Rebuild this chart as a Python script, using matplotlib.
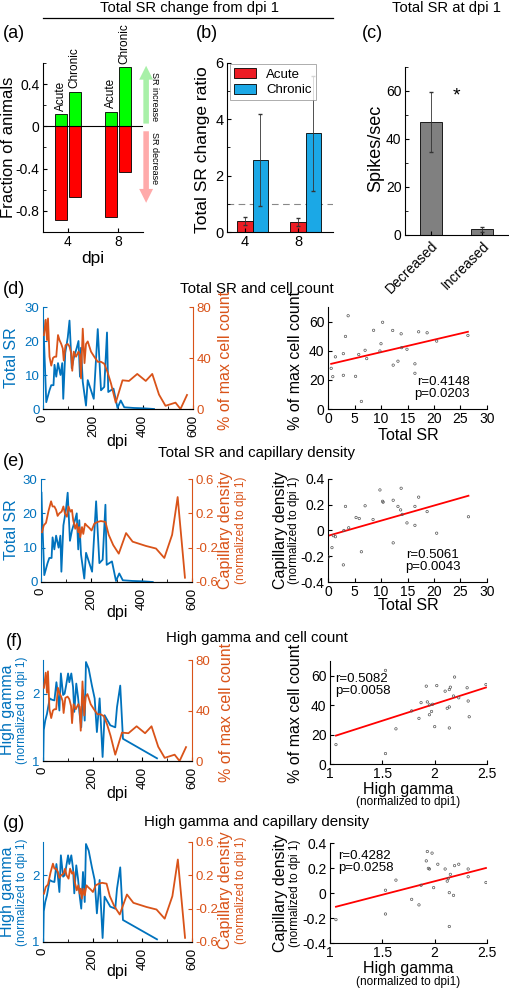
import numpy as np
import matplotlib
matplotlib.use('Agg')
import matplotlib.pyplot as plt
from matplotlib.ticker import MultipleLocator

plt.rcParams['font.family'] = ['Liberation Sans', 'DejaVu Sans']
plt.rcParams['xtick.direction'] = 'in'
plt.rcParams['ytick.direction'] = 'in'
plt.rcParams['xtick.major.pad'] = 2.5
plt.rcParams['ytick.major.pad'] = 2.5
plt.rcParams['axes.linewidth'] = 0.8

BLUE = '#0072BD'
ORANGE = '#D95319'

# (a) fraction of animals
a_dpi = [4, 8]
a_acute_up = [0.12, 0.14]
a_chronic_up = [0.33, 0.565]
a_acute_down = [-0.885, -0.86]
a_chronic_down = [-0.67, -0.435]

# (b) total SR change ratio
b_dpi = [4, 8]
b_acute = [0.40, 0.36]
b_acute_err = [0.15, 0.15]
b_chronic = [2.56, 3.50]
b_chronic_err = [1.62, 2.05]

# (c) total SR at dpi 1
c_groups = ['Decreased', 'Increased']
c_vals = [47.0, 2.4]
c_err = [12.5, 1.1]

# time series
sr_dpi = [2, 4, 13, 26, 33, 42, 46, 53, 60, 70, 77, 81, 89, 99, 106, 115, 123, 135, 142,
          148, 152, 159, 172, 179, 192, 203, 219, 232, 245, 256, 261, 282, 298, 311, 325,
          364, 404, 444]
sr = [26, 20, 2, 5.5, 7, 7, 13, 9.5, 13.5, 10, 13.5, 3, 16.5, 21, 26, 12, 15, 18, 20,
      9.5, 18, 8, 1, 8.5, 5.5, 3, 23.5, 5.5, 6.5, 22.5, 5, 6, 0.3, 2.5, 0.5, 0.3, 0.2, 0]

cc_dpi = [4, 11, 16, 20, 26, 33, 40, 46, 53, 60, 66, 73, 79, 83, 90, 99, 106, 113, 117, 123,
          132, 142, 147, 152, 159, 166, 172, 179, 192, 205, 219, 232, 245, 258, 272, 291,
          318, 344, 377, 411, 437, 464, 490, 530, 550, 576]
cc = [58, 70, 54, 71, 41, 34, 40, 41, 41, 58, 54, 51, 47.5, 38, 50, 51, 49, 43.5, 30, 45,
      41, 45, 43, 24, 63, 36, 51, 53, 45, 41, 37, 37, 35.5, 29, 20, 5, 22.5, 22, 27.5, 22,
      27.5, 11.3, 2.5, 5, 0, 11]

cap_dpi = [4, 11, 20, 30, 40, 46, 53, 60, 66, 73, 82, 89, 95, 103, 109, 117, 123, 128, 136,
           142, 148, 152, 156, 163, 168, 175, 181, 192, 201, 212, 225, 238, 256, 269, 287,
           309, 338, 364, 417, 457, 490, 521, 543, 572]
cap = [-0.02, 0.06, 0.09, 0.23, 0.34, 0.28, 0.28, 0.24, 0.17, 0.20, 0.22, 0.28, 0.20, 0.16,
       0.28, 0.22, 0.24, 0.12, 0.02, 0.08, -0.02, 0.04, -0.08, 0.04, -0.04, 0.08, 0.06,
       0.03, 0.0, 0.08, 0.10, 0.11, 0.10, -0.05, -0.17, -0.27, -0.03, -0.13, -0.18, -0.21,
       -0.32, -0.05, 0.39, -0.55]

hg_dpi = [1, 3, 9, 16, 27, 36, 46, 54, 59, 66, 72, 81, 87, 93, 101, 106, 114, 121, 126, 134,
          141, 148, 154, 161, 168, 173, 184, 197, 208, 217, 228, 240, 248, 271, 291, 298,
          311, 322, 459]
hg = [1.0, 1.46, 1.6, 1.7, 1.93, 1.91, 1.9, 2.17, 2.02, 1.75, 2.3, 1.98, 2.0, 2.12, 2.3,
      2.17, 2.3, 2.1, 1.73, 2.15, 1.95, 1.68, 1.5, 2.05, 1.6, 2.47, 2.37, 2.12, 1.93, 1.43,
      1.93, 1.06, 1.68, 1.53, 1.5, 1.8, 2.12, 1.33, 1.04]

# scatter: total SR vs cell count
d_sr = [0.6, 0.9, 1.4, 2.9, 2.9, 3.3, 3.8, 5.2, 5.8, 6.3, 7.0, 7.3, 8.6, 9.8, 10.0, 10.3,
        12.2, 12.3, 13.2, 13.8, 13.9, 14.9, 16.4, 16.4, 17.1, 18.7, 20.5, 26.4]
d_cc = [27.9, 22.2, 35.8, 38, 23.1, 49.8, 64, 22.4, 37.4, 5.2, 40.3, 34.6, 54, 39.8, 44.8,
        59.5, 53.9, 30.1, 32.8, 51.6, 42.1, 41, 31, 24.5, 53, 52.3, 46.6, 50.5]
d_fit = [31.0, 53.0]

# scatter: total SR vs capillary density
e_sr = [0.1, 0.75, 1.0, 1.4, 3.0, 3.3, 2.9, 3.9, 5.3, 5.9, 6.3, 7.0, 8.5, 9.8, 10.3, 10.4,
        12.3, 12.3, 13.2, 13.7, 13.8, 14.0, 14.9, 16.4, 16.4, 17.1, 18.7, 20.5, 26.5]
e_cap = [-0.205, -0.133, -0.04, -0.048, 0.0, 0.187, -0.267, 0.021, 0.101, 0.093, -0.165,
         0.192, 0.085, 0.315, 0.227, 0.22, 0.235, -0.096, 0.187, 0.16, 0.328, 0.125, 0.059,
         0.187, 0.04, 0.259, 0.147, -0.021, 0.107]
e_fit = [-0.04, 0.27]

# scatter: high gamma vs cell count
f_hg = [1.057, 1.53, 1.53, 1.63, 1.78, 1.85, 1.87, 1.92, 1.93, 1.95, 1.95, 1.97, 1.98, 2.0,
        2.02, 2.10, 2.12, 2.14, 2.14, 2.14, 2.15, 2.18, 2.19, 2.23, 2.31, 2.32, 2.33, 2.49]
f_cc = [13.2, 63.6, 7.1, 23.9, 36.1, 31, 41.7, 52.9, 42.2, 40.2, 33.5, 35.7, 40.6, 25.4,
        53.3, 49.5, 37.9, 38.8, 24.5, 50.6, 52.2, 46.2, 59.1, 45, 51.8, 42.8, 32.1, 54]
f_fit = [19.3, 52.0]

# scatter: high gamma vs capillary density
g_hg = [1.057, 1.53, 1.53, 1.63, 1.78, 1.85, 1.87, 1.92, 1.93, 1.94, 1.95, 1.975, 1.99,
        2.03, 2.10, 2.12, 2.13, 2.14, 2.14, 2.15, 2.18, 2.19, 2.23, 2.32, 2.32, 2.49]
g_cap = [-0.213, -0.168, 0.022, 0.103, -0.051, -0.095, 0.062, 0.257, 0.332, 0.197, 0.192,
         0.319, 0.043, 0.23, 0.192, 0.095, 0.116, 0.003, -0.268, 0.149, -0.019, 0.219, 0.23,
         0.192, 0.13, 0.084]
g_fit = [-0.11, 0.20]

W, H = 510, 988
fig = plt.figure(figsize=(W / 100, H / 100), dpi=100)

LAB = 11.5     # axis labels in panels d-g
SUB = 8.5      # "(normalized ...)" sub labels
TTL = 10.8     # panel titles
TCK = 9.5      # tick labels


def add_ax(x0, y0, x1, y1):
    return fig.add_axes([x0 / W, 1 - y1 / H, (x1 - x0) / W, (y1 - y0) / H])


def ftext(x, y, s, **kw):
    kw.setdefault('ha', 'center')
    kw.setdefault('va', 'center')
    fig.text(x / W, 1 - y / H, s, **kw)


def box_off(ax):
    ax.spines['top'].set_visible(False)
    ax.spines['right'].set_visible(False)


# ---------- top headers ----------
ftext(190, 8, 'Total SR change from dpi 1', fontsize=10.6)
fig.add_artist(plt.Line2D([43 / W, 333 / W], [1 - 18 / H, 1 - 18 / H], color='k', lw=0.9))
ftext(447, 8, 'Total SR at dpi 1', fontsize=10.6)
for lab, x, y in [('(a)', 14, 33), ('(b)', 207, 33), ('(c)', 372, 33),
                  ('(d)', 14, 290), ('(e)', 14, 461), ('(f)', 14, 641), ('(g)', 14, 823)]:
    ftext(x, y, lab, fontsize=13)

# ---------- (a) ----------
ax = add_ax(43, 63, 143, 232)
box_off(ax)
xa = np.array(a_dpi, dtype=float)
ax.bar(xa - 0.55, a_acute_up, width=1.0, color='#00FF00', edgecolor='k', lw=0.6)
ax.bar(xa + 0.55, a_chronic_up, width=1.0, color='#00FF00', edgecolor='k', lw=0.6)
ax.bar(xa - 0.55, a_acute_down, width=1.0, color='#FF0000', edgecolor='k', lw=0.6)
ax.bar(xa + 0.55, a_chronic_down, width=1.0, color='#FF0000', edgecolor='k', lw=0.6)
ax.axhline(0, color='k', lw=0.8)
for i in range(2):
    ax.text(xa[i] - 0.55, a_acute_up[i] + 0.03, 'Acute', rotation=90, ha='center',
            va='bottom', fontsize=8.5)
    ax.text(xa[i] + 0.55, a_chronic_up[i] + 0.03, 'Chronic', rotation=90, ha='center',
            va='bottom', fontsize=8.5, clip_on=False)
ax.set_xlim(2, 10)
ax.set_ylim(-1.0, 0.6)
ax.set_xticks(a_dpi)
ax.set_yticks([-0.8, -0.4, 0, 0.4])
ax.set_yticklabels(['-0.8', '-0.4', '0', '0.4'])
ax.yaxis.set_minor_locator(MultipleLocator(0.2))
ax.tick_params(labelsize=10, length=3)
ax.tick_params(which='minor', length=2)
ax.annotate('', xy=(10.25, 0.6), xytext=(10.25, 0.0), annotation_clip=False,
            arrowprops=dict(arrowstyle='simple,head_width=1.0,head_length=1.0,tail_width=0.4',
                            color='#A8F0A8', lw=0))
ax.annotate('', xy=(10.25, -0.75), xytext=(10.25, -0.02), annotation_clip=False,
            arrowprops=dict(arrowstyle='simple,head_width=1.0,head_length=1.0,tail_width=0.4',
                            color='#FFAAAA', lw=0))
ax.text(10.95, 0.28, 'SR increase', rotation=-90, ha='center', va='center', fontsize=6.5,
        clip_on=False)
ax.text(10.95, -0.3, 'SR decrease', rotation=-90, ha='center', va='center', fontsize=6.5,
        clip_on=False)
ftext(9, 147, 'Fraction of animals', rotation=90, fontsize=12)
ftext(93, 258, 'dpi', fontsize=12.5)

# ---------- (b) ----------
ax = add_ax(227, 63, 333, 232)
box_off(ax)
xb = np.array(b_dpi, dtype=float)
ax.axhline(1, color='#888888', lw=0.8, ls=(0, (6, 4)), zorder=0)
ax.bar(xb, b_acute, width=1.15, color='#ED1C24', edgecolor='k', lw=0.6, label='Acute',
       yerr=b_acute_err, error_kw=dict(ecolor='#333333', elinewidth=0.6, capsize=1.5))
ax.bar(xb + 1.15, b_chronic, width=1.15, color='#1BA8E6', edgecolor='k', lw=0.6,
       label='Chronic',
       yerr=b_chronic_err, error_kw=dict(ecolor='#333333', elinewidth=0.6, capsize=1.5))
ax.set_xlim(2.64, 10.64)
ax.set_ylim(0, 6)
ax.set_xticks(b_dpi)
ax.set_yticks([0, 2, 4, 6])
ax.yaxis.set_minor_locator(MultipleLocator(1))
ax.tick_params(labelsize=10.5, length=3)
ax.tick_params(which='minor', length=2)
leg = ax.legend(loc='upper left', fontsize=9.5, frameon=True, fancybox=False,
                edgecolor='#888888', borderpad=0.3, handlelength=1.6, handleheight=0.8,
                labelspacing=0.2, borderaxespad=0.1, bbox_to_anchor=(0.02, 1.0))
leg.get_frame().set_linewidth(0.6)
ftext(203, 150, 'Total SR change ratio', rotation=90, fontsize=12.5)

# ---------- (c) ----------
ax = add_ax(405, 67, 508, 235)
box_off(ax)
xc = np.arange(1, len(c_groups) + 1)
ax.bar(xc, c_vals, width=0.42, color='#808080', edgecolor='k', lw=0.6,
       yerr=c_err, error_kw=dict(ecolor='#333333', elinewidth=0.6, capsize=1.5))
ax.text(1.5, 58, '*', ha='center', va='center', fontsize=14)
ax.set_xlim(0.5, 2.5)
ax.set_ylim(0, 70)
ax.set_xticks(xc)
ax.set_xticklabels(c_groups, rotation=45, ha='right', rotation_mode='anchor')
ax.set_yticks([0, 20, 40, 60])
ax.yaxis.set_minor_locator(MultipleLocator(10))
ax.tick_params(labelsize=10, length=3)
ax.tick_params(which='minor', length=2)
ftext(376, 148, 'Spikes/sec', rotation=90, fontsize=13)


# ---------- time series panels ----------
def series_panel(box, left_x, left_y, right_x, right_y, lylim, lyticks, rylim, ryticks,
                 ryticklabels=None):
    ax = add_ax(*box)
    ax2 = ax.twinx()
    ax.plot(left_x, left_y, color=BLUE, lw=1.3)
    ax2.plot(right_x, right_y, color=ORANGE, lw=1.3)
    ax.set_xlim(0, 600)
    ax.set_ylim(*lylim)
    ax2.set_ylim(*rylim)
    ax.set_xticks([0, 200, 400, 600])
    ax.xaxis.set_minor_locator(MultipleLocator(100))
    ax.set_xticklabels(['0', '200', '400', '600'], rotation=90)
    ax.set_yticks(lyticks)
    ax2.set_yticks(ryticks)
    if ryticklabels is not None:
        ax2.set_yticklabels(ryticklabels)
    for a in (ax, ax2):
        a.spines['top'].set_visible(False)
    ax.spines['right'].set_visible(False)
    ax.spines['left'].set_color(BLUE)
    ax2.spines['left'].set_visible(False)
    ax2.spines['right'].set_color(ORANGE)
    ax.spines['bottom'].set_color('#333333')
    ax.tick_params(axis='y', colors=BLUE, labelsize=TCK, length=3)
    ax.tick_params(axis='x', labelsize=TCK, length=3, pad=4)
    ax.tick_params(axis='x', which='minor', length=2)
    ax2.tick_params(axis='y', colors=ORANGE, labelsize=TCK, length=3)
    return ax, ax2


def scatter_panel(box, xs, ys, fit, xlim, ylim, xticks, yticks, xticklabels=None,
                  yticklabels=None):
    ax = add_ax(*box)
    box_off(ax)
    ax.scatter(xs, ys, s=3, facecolors='none', edgecolors='#555555', linewidths=0.5,
               zorder=3)
    ax.plot([min(xs), max(xs)], fit, color='#FF0000', lw=1.3, zorder=2)
    ax.set_xlim(*xlim)
    ax.set_ylim(*ylim)
    ax.set_xticks(xticks)
    ax.set_yticks(yticks)
    if xticklabels is not None:
        ax.set_xticklabels(xticklabels)
    if yticklabels is not None:
        ax.set_yticklabels(yticklabels)
    ax.tick_params(labelsize=10, length=3)
    return ax


cap_ticks = [-0.6, -0.2, 0.2, 0.6]
cap_labels = ['-0.6', '-0.2', '0.2', '0.6']

# (d)
ftext(257, 289, 'Total SR and cell count', fontsize=TTL)
series_panel((43, 307, 193, 409), sr_dpi, sr, cc_dpi, cc, (0, 30), [0, 10, 20, 30],
             (0, 80), [0, 40, 80])
ftext(12, 358, 'Total SR', rotation=90, fontsize=LAB, color=BLUE)
ftext(226, 360, '% of max cell count', rotation=90, fontsize=LAB, color=ORANGE)
ftext(117, 441, 'dpi', fontsize=LAB)
scatter_panel((328, 307, 487, 409), d_sr, d_cc, d_fit, (0, 30), (0, 70),
              [0, 5, 10, 15, 20, 25, 30], [0, 20, 40, 60])
ftext(470, 388, 'r=0.4148\np=0.0203', fontsize=9.5, ha='right', linespacing=1.0)
ftext(296, 360, '% of max cell count', rotation=90, fontsize=LAB)
ftext(408, 435, 'Total SR', fontsize=LAB)

# (e)
ftext(257, 453, 'Total SR and capillary density', fontsize=TTL)
series_panel((41, 479, 192, 582), sr_dpi, sr, cap_dpi, cap, (0, 30), [0, 10, 20, 30],
             (-0.6, 0.6), cap_ticks, cap_labels)
ftext(12, 530, 'Total SR', rotation=90, fontsize=LAB, color=BLUE)
ftext(226, 530, 'Capillary density', rotation=90, fontsize=LAB, color=ORANGE)
ftext(241, 530, '(normalized to dpi 1)', rotation=90, fontsize=SUB, color=ORANGE)
ftext(117, 613, 'dpi', fontsize=LAB)
scatter_panel((328, 479, 487, 582), e_sr, e_cap, e_fit, (0, 30), (-0.4, 0.4),
              [0, 5, 10, 15, 20, 25, 30], [-0.4, -0.2, 0, 0.2, 0.4],
              yticklabels=['-0.4', '-0.2', '0', '0.2', '0.4'])
ftext(433, 561, 'r=0.5061\np=0.0043', fontsize=9.5, linespacing=1.0)
ftext(280, 530, 'Capillary density', rotation=90, fontsize=LAB)
ftext(294, 530, '(normalized to dpi 1)', rotation=90, fontsize=SUB)
ftext(408, 606, 'Total SR', fontsize=LAB)

# (f)
ftext(257, 638, 'High gamma and cell count', fontsize=TTL)
series_panel((43, 660, 192, 761), hg_dpi, hg, cc_dpi, cc, (1, 2.5), [1, 2],
             (0, 80), [0, 40, 80])
ftext(8, 710, 'High gamma', rotation=90, fontsize=LAB, color=BLUE)
ftext(22, 710, '(normalized to dpi 1)', rotation=90, fontsize=SUB, color=BLUE)
ftext(227, 712, '% of max cell count', rotation=90, fontsize=LAB, color=ORANGE)
ftext(117, 793, 'dpi', fontsize=LAB)
scatter_panel((330, 661, 487, 764), f_hg, f_cc, f_fit, (1, 2.5), (0, 70),
              [1, 1.5, 2, 2.5], [0, 20, 40, 60], xticklabels=['1', '1.5', '2', '2.5'])
ftext(335, 685, 'r=0.5082\np=0.0058', fontsize=9.5, ha='left', linespacing=1.0)
ftext(296, 713, '% of max cell count', rotation=90, fontsize=LAB)
ftext(408, 789, 'High gamma', fontsize=LAB)
ftext(408, 802, '(normalized to dpi1)', fontsize=SUB)

# (g)
ftext(257, 822, 'High gamma and capillary density', fontsize=TTL)
series_panel((43, 842, 192, 942), hg_dpi, hg, cap_dpi, cap, (1, 2.5), [1, 2],
             (-0.6, 0.6), cap_ticks, cap_labels)
ftext(8, 892, 'High gamma', rotation=90, fontsize=LAB, color=BLUE)
ftext(22, 892, '(normalized to dpi 1)', rotation=90, fontsize=SUB, color=BLUE)
ftext(226, 890, 'Capillary density', rotation=90, fontsize=LAB, color=ORANGE)
ftext(241, 890, '(normalized to dpi 1)', rotation=90, fontsize=SUB, color=ORANGE)
ftext(117, 971, 'dpi', fontsize=LAB)
scatter_panel((330, 843, 487, 943), g_hg, g_cap, g_fit, (1, 2.5), (-0.4, 0.4),
              [1, 1.5, 2, 2.5], [-0.4, -0.2, 0, 0.2, 0.4], xticklabels=['1', '1.5', '2', '2.5'],
              yticklabels=['-0.4', '-0.2', '0', '0.2', '0.4'])
ftext(338, 862, 'r=0.4282\np=0.0258', fontsize=9.5, ha='left', linespacing=1.0)
ftext(281, 893, 'Capillary density', rotation=90, fontsize=LAB)
ftext(295, 893, '(normalized to dpi 1)', rotation=90, fontsize=SUB)
ftext(408, 968, 'High gamma', fontsize=LAB)
ftext(408, 982, '(normalized to dpi1)', fontsize=SUB)

fig.savefig('out.png', dpi=100)
